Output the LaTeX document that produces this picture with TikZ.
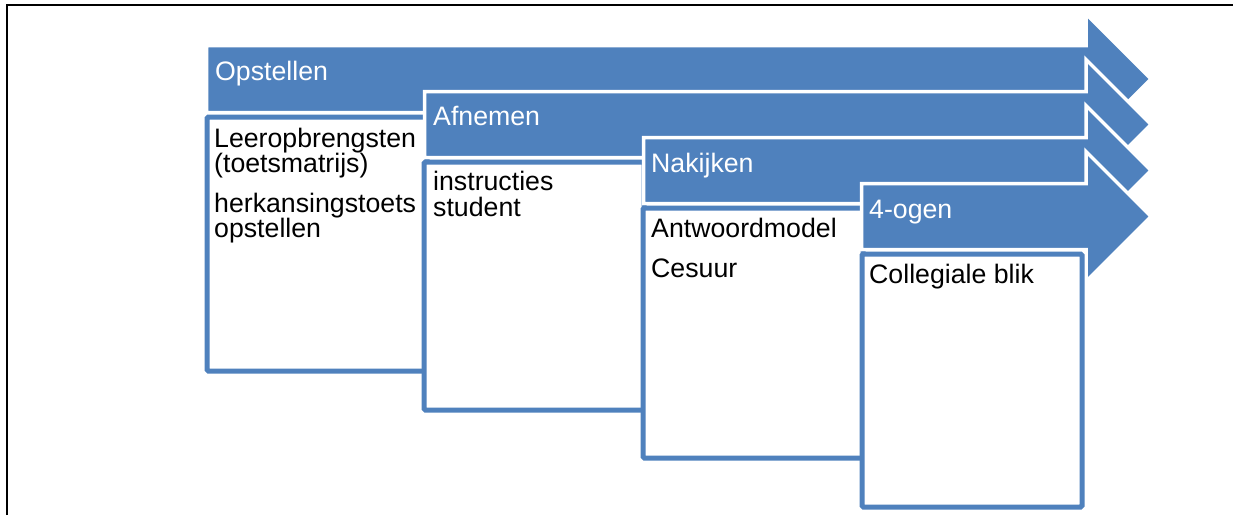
\documentclass[tikz,border=0pt]{standalone}
\usepackage{fontspec}
\setmainfont{Liberation Sans}
\definecolor{stepblue}{HTML}{4F81BD}

\tikzset{
  phasearrow/.style={fill=stepblue, draw=white, line width=3.5pt, line join=miter},
  phasebox/.style={fill=white, draw=stepblue, line width=5pt, rounded corners=1.5pt},
  phasetitle/.style={anchor=base west, inner sep=0pt, text=white,
                     font=\fontsize{26.7}{30}\selectfont},
  itemtext/.style={anchor=base west, inner sep=0pt, text=black,
                   font=\fontsize{26.7}{30}\selectfont},
  framerule/.style={draw=black, line width=2.3pt},
}

% block arrow: left, top, bottom of its body; head notch at x=1086, tip at x=1151
\newcommand\blockarrow[3]{%
  \pgfmathsetmacro\arrmid{(#2+#3)/2}%
  \pgfmathsetmacro\arrtop{\arrmid-65}%
  \pgfmathsetmacro\arrbot{\arrmid+65}%
  \path[phasearrow] (#1,#2) -- (1086,#2) -- (1086,\arrtop) -- (1151,\arrmid)
    -- (1086,\arrbot) -- (1086,#3) -- (#1,#3) -- cycle;
}

\begin{document}
\begin{tikzpicture}[x=1pt,y=-1pt]
  \useasboundingbox (0,0) rectangle (1233,515);

  % page frame (left and top rules)
  \path[framerule] (7,515) -- (7,5) -- (1233,5);

  % phase 1
  \blockarrow{206.5}{45.5}{112.5}
  \node[phasetitle] (h1) at (215,80) {Opstellen};
  \path[phasebox] (207,117) rectangle (427,371);
  \node[itemtext] (t1a) at (214,147) {Leeropbrengsten};
  \node[itemtext] (t1b) at (214,172.5) {(toetsmatrijs)};
  \node[itemtext] (t1c) at (214,212) {herkansingstoets};
  \node[itemtext] (t1d) at (214,237.5) {opstellen};

  % phase 2
  \blockarrow{424.5}{91.5}{157.5}
  \node[phasetitle] (h2) at (433,125) {Afnemen};
  \path[phasebox] (424,162) rectangle (644,410);
  \node[itemtext] (t2a) at (433,190) {instructies};
  \node[itemtext] (t2b) at (433,216) {student};

  % phase 3
  \blockarrow{643.5}{137.5}{203.5}
  \node[phasetitle] (h3) at (651,172) {Nakijken};
  \path[phasebox] (643,208) rectangle (863,458);
  \node[itemtext] (t3a) at (651,237) {Antwoordmodel};
  \node[itemtext] (t3b) at (651,277) {Cesuur};

  % phase 4
  \blockarrow{861.5}{183.5}{249.5}
  \node[phasetitle] (h4) at (869,218) {4-ogen};
  \path[phasebox] (862,254) rectangle (1082,507);
  \node[itemtext] (t4a) at (869,283) {Collegiale blik};
\end{tikzpicture}
\end{document}
